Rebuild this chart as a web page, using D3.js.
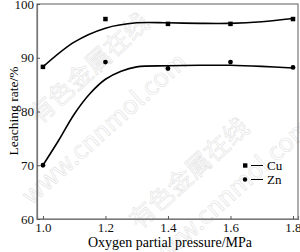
<!DOCTYPE html>
<html>
<head>
<meta charset="utf-8">
<script src="https://cdn.jsdelivr.net/npm/d3@7"></script>
<style>
  body { margin: 0; background: #fff; }
  text { font-family: "Liberation Serif", "DejaVu Serif", serif; }
</style>
</head>
<body>
<div id="vis"></div>
<script>
const W = 300, H = 252;
const margin = { top: 4, right: 2, bottom: 33, left: 37 };
const width = W - margin.left - margin.right;
const height = H - margin.top - margin.bottom;

// measured points
const pressure = [1.0, 1.2, 1.4, 1.6, 1.8];
const cuRate = [88.3, 97.2, 96.3, 96.3, 97.2];
const znRate = [70.0, 89.2, 88.0, 89.2, 88.2];

// fitted curves
const cuFitX = [1.0, 1.1, 1.2, 1.3, 1.4, 1.5, 1.6, 1.7, 1.8];
const cuFitY = [88.3, 92.9, 95.5, 96.5, 96.5, 96.4, 96.4, 96.7, 97.3];
const znFitX = [1.0, 1.05, 1.1, 1.15, 1.2, 1.25, 1.3, 1.4, 1.5, 1.6, 1.7, 1.8];
const znFitY = [70.0, 74.6, 79.5, 83.3, 86.0, 87.5, 88.3, 88.5, 88.6, 88.6, 88.4, 88.1];

const xTicks = [1.0, 1.2, 1.4, 1.6, 1.8];
const yTicks = [60, 70, 80, 90, 100];

const svg = d3.select('#vis').append('svg')
  .attr('width', W).attr('height', H);

// faint watermark
const marks = [
  { t: '有色金属在线', x: 95, y: 75 },
  { t: 'www.cnnmol.com', x: 110, y: 135 },
  { t: '有色金属在线', x: 195, y: 180 },
  { t: 'www.cnnmol.com', x: 235, y: 200 }
];
svg.selectAll('.wm').data(marks).join('text')
  .attr('class', 'wm')
  .attr('transform', d => `translate(${d.x},${d.y}) rotate(-42)`)
  .attr('text-anchor', 'middle')
  .style('font-family', '"Noto Sans CJK SC", sans-serif')
  .style('font-size', '25px')
  .style('fill', 'none')
  .style('stroke', '#e2e2e2')
  .style('stroke-width', 0.6)
  .text(d => d.t);

const g = svg.append('g').attr('transform', `translate(${margin.left},${margin.top})`);

const x = d3.scaleLinear().domain([0.981, 1.816]).range([0, width]);
const y = d3.scaleLinear().domain([60, 100]).range([height, 0]);

// frame
g.append('rect').attr('width', width).attr('height', height)
  .attr('fill', 'none').attr('stroke', '#777').attr('stroke-width', 1.2);

const xAxis = g.append('g').attr('transform', `translate(0,${height})`)
  .call(d3.axisBottom(x).tickValues(xTicks).tickSize(-3).tickPadding(4).tickFormat(d3.format('.1f')));
const yAxis = g.append('g')
  .call(d3.axisLeft(y).tickValues(yTicks).tickSize(-3).tickPadding(3));
[xAxis, yAxis].forEach(a => {
  a.select('.domain').attr('stroke', '#777').attr('stroke-width', 1.2);
  a.selectAll('.tick line').attr('stroke', '#555');
  a.selectAll('.tick text').style('font-size', '13px').style('font-family', '"Liberation Serif", serif').attr('fill', '#111');
});

const line = d3.line().x(d => x(d[0])).y(d => y(d[1])).curve(d3.curveCatmullRom);

g.append('path').datum(cuFitX.map((v, i) => [v, cuFitY[i]]))
  .attr('d', line).attr('fill', 'none').attr('stroke', '#000').attr('stroke-width', 1.6);
g.append('path').datum(znFitX.map((v, i) => [v, znFitY[i]]))
  .attr('d', line).attr('fill', 'none').attr('stroke', '#000').attr('stroke-width', 1.6);

const s = 4.5;
g.selectAll('.cu').data(pressure).join('rect')
  .attr('x', (d) => x(d) - s / 2)
  .attr('y', (d, i) => y(cuRate[i]) - s / 2)
  .attr('width', s).attr('height', s).attr('fill', '#000');
g.selectAll('.zn').data(pressure).join('circle')
  .attr('cx', d => x(d))
  .attr('cy', (d, i) => y(znRate[i]))
  .attr('r', 2.4).attr('fill', '#000');

// legend
const leg = svg.append('g');
const legItems = ['Cu', 'Zn'];
legItems.forEach((name, i) => {
  const ly = 165.5 + i * 14;
  if (i === 0) leg.append('rect').attr('x', 243).attr('y', ly - 2.2).attr('width', 4.4).attr('height', 4.4).attr('fill', '#000');
  else leg.append('circle').attr('cx', 245).attr('cy', ly).attr('r', 2.2).attr('fill', '#000');
  leg.append('line').attr('x1', 251).attr('x2', 263).attr('y1', ly).attr('y2', ly).attr('stroke', '#000').attr('stroke-width', 1);
  leg.append('text').attr('x', 267).attr('y', ly + 4.5).style('font-size', '13px').text(name);
});

// axis titles
svg.append('text').attr('x', 170).attr('y', 247).attr('text-anchor', 'middle')
  .style('font-size', '14px').text('Oxygen partial pressure/MPa');
svg.append('text').attr('transform', 'translate(18,111) rotate(-90)').attr('text-anchor', 'middle')
  .style('font-size', '13.5px').text('Leaching rate/%');
</script>
</body>
</html>
